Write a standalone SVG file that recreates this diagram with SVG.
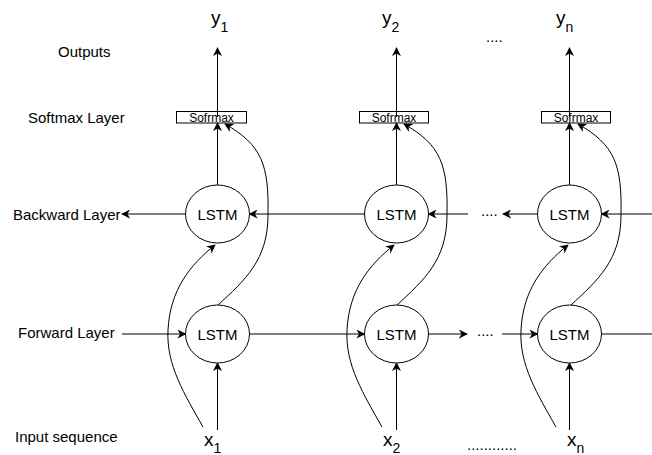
<svg xmlns="http://www.w3.org/2000/svg" width="652" height="455" viewBox="0 0 652 455">
  <defs>
    <marker id="arrow" viewBox="0 0 10 10" refX="9" refY="5" markerWidth="9" markerHeight="9" markerUnits="userSpaceOnUse" orient="auto">
      <path d="M0,0 L10,5 L0,10 L3,5 z" fill="#000"/>
    </marker>
    <style>
      text { font-family: "Liberation Sans", Arial, Helvetica, sans-serif; fill: #000; }
      .label { font-size: 15px; }
      .cell { fill: #fff; stroke: #000; stroke-width: 1; }
      .cell-text { font-size: 15px; text-anchor: middle; }
      .soft { fill: none; stroke: #000; stroke-width: 1; }
      .soft-text { font-size: 12px; text-anchor: middle; }
      .io { font-size: 19px; }
      .sub { font-size: 14px; }
      .dots { font-size: 15px; }
      .edge { fill: none; stroke: #000; stroke-width: 1; }
      .arr { marker-end: url(#arrow); }
    </style>
  </defs>
  <rect width="652" height="455" fill="#fff"/>

  <!-- row labels -->
  <g id="row-labels">
    <text class="label" x="58" y="57">Outputs</text>
    <text class="label" x="28" y="123">Softmax Layer</text>
    <text class="label" x="13" y="220">Backward Layer</text>
    <text class="label" x="18" y="338">Forward Layer</text>
    <text class="label" x="15" y="442">Input sequence</text>
  </g>

  <!-- connectors -->
  <g id="connectors">
    <!-- column 1 -->
    <line class="edge arr" x1="217.5" y1="185" x2="217.5" y2="123"/>
    <line class="edge arr" x1="217.5" y1="117" x2="217.5" y2="48"/>
    <line class="edge arr" x1="217.5" y1="430" x2="217.5" y2="363"/>
    <path class="edge arr" d="M203,427 C185,395 166,365 168,330 C170,290 190,265 215,245"/>
    <path class="edge arr" d="M218,305 C245,280 268,260 268,215 C269,165 262,145 225,124"/>

    <!-- column 2 -->
    <line class="edge arr" x1="396.5" y1="185" x2="396.5" y2="123"/>
    <line class="edge arr" x1="396.5" y1="117" x2="396.5" y2="48"/>
    <line class="edge arr" x1="396.5" y1="430" x2="396.5" y2="363"/>
    <g transform="translate(179,0)">
      <path class="edge arr" d="M203,427 C185,395 166,365 168,330 C170,290 190,265 215,245"/>
      <path class="edge arr" d="M218,305 C245,280 268,260 268,215 C269,165 262,145 225,124"/>
    </g>

    <!-- column n -->
    <line class="edge arr" x1="569.5" y1="185" x2="569.5" y2="123"/>
    <line class="edge arr" x1="569.5" y1="117" x2="569.5" y2="48"/>
    <line class="edge arr" x1="569.5" y1="430" x2="569.5" y2="363"/>
    <g transform="translate(353,0)">
      <path class="edge arr" d="M203,427 C185,395 166,365 168,330 C170,290 190,265 215,245"/>
      <path class="edge arr" d="M218,305 C245,280 268,260 268,215 C269,165 262,145 225,124"/>
    </g>

    <!-- backward layer -->
    <line class="edge arr" x1="185.5" y1="214" x2="122" y2="214"/>
    <line class="edge arr" x1="364.5" y1="214" x2="249.5" y2="214"/>
    <line class="edge arr" x1="468" y1="214" x2="428.5" y2="214"/>
    <line class="edge arr" x1="537.5" y1="214" x2="503" y2="214"/>
    <line class="edge arr" x1="652" y1="214" x2="601.5" y2="214"/>

    <!-- forward layer -->
    <line class="edge arr" x1="122" y1="334" x2="185.5" y2="334"/>
    <line class="edge arr" x1="249.5" y1="334" x2="364.5" y2="334"/>
    <line class="edge arr" x1="428.5" y1="334" x2="467" y2="334"/>
    <line class="edge arr" x1="502" y1="334" x2="537.5" y2="334"/>
    <line class="edge" x1="601.5" y1="334" x2="652" y2="334"/>
  </g>

  <!-- softmax cells -->
  <g id="softmax-1">
    <rect class="soft" x="176.5" y="111.5" width="70" height="11.5"/>
    <text class="soft-text" x="211.5" y="121.5">Sofrmax</text>
  </g>
  <g id="softmax-2">
    <rect class="soft" x="359.5" y="111.5" width="69" height="11.5"/>
    <text class="soft-text" x="394" y="121.5">Sofrmax</text>
  </g>
  <g id="softmax-n">
    <rect class="soft" x="541.5" y="111.5" width="69" height="11.5"/>
    <text class="soft-text" x="576" y="121.5">Sofrmax</text>
  </g>

  <!-- backward LSTM cells -->
  <g id="lstm-bwd-1">
    <ellipse class="cell" cx="217.5" cy="214" rx="32" ry="29"/>
    <text class="cell-text" x="217.5" y="219.5">LSTM</text>
  </g>
  <g id="lstm-bwd-2">
    <ellipse class="cell" cx="396.5" cy="214" rx="32" ry="29"/>
    <text class="cell-text" x="396.5" y="219.5">LSTM</text>
  </g>
  <g id="lstm-bwd-n">
    <ellipse class="cell" cx="569.5" cy="214" rx="32" ry="29"/>
    <text class="cell-text" x="569.5" y="219.5">LSTM</text>
  </g>

  <!-- forward LSTM cells -->
  <g id="lstm-fwd-1">
    <ellipse class="cell" cx="217.5" cy="334" rx="32" ry="29"/>
    <text class="cell-text" x="217.5" y="339.5">LSTM</text>
  </g>
  <g id="lstm-fwd-2">
    <ellipse class="cell" cx="396.5" cy="334" rx="32" ry="29"/>
    <text class="cell-text" x="396.5" y="339.5">LSTM</text>
  </g>
  <g id="lstm-fwd-n">
    <ellipse class="cell" cx="569.5" cy="334" rx="32" ry="29"/>
    <text class="cell-text" x="569.5" y="339.5">LSTM</text>
  </g>

  <!-- outputs -->
  <g id="output-1"><text class="io" x="211" y="24">y<tspan class="sub" dy="8">1</tspan></text></g>
  <g id="output-2"><text class="io" x="382" y="24">y<tspan class="sub" dy="8">2</tspan></text></g>
  <g id="output-n"><text class="io" x="556" y="24">y<tspan class="sub" dy="8">n</tspan></text></g>

  <!-- inputs -->
  <g id="input-1"><text class="io" x="204" y="446">x<tspan class="sub" dy="7">1</tspan></text></g>
  <g id="input-2"><text class="io" x="383" y="446">x<tspan class="sub" dy="7">2</tspan></text></g>
  <g id="input-n"><text class="io" x="567" y="446">x<tspan class="sub" dy="7">n</tspan></text></g>

  <!-- ellipses -->
  <g id="ellipsis">
    <text class="dots" x="486" y="42">....</text>
    <text class="dots" x="481" y="216">....</text>
    <text class="dots" x="477" y="336">....</text>
    <text class="dots" x="467" y="450">............</text>
  </g>
</svg>
